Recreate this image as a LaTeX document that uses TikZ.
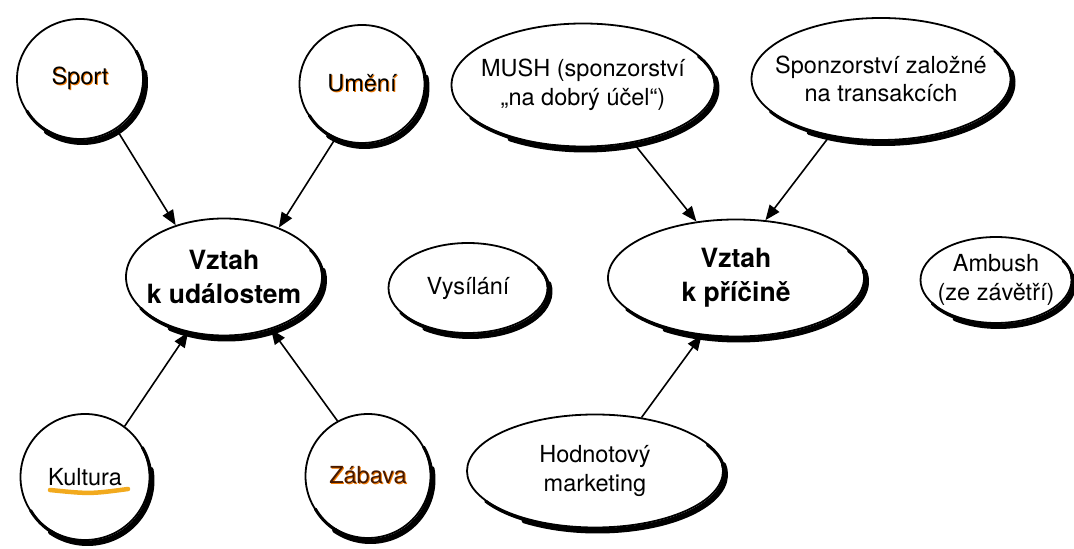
\documentclass[tikz,border=0pt]{standalone}
\usepackage{fontspec}
\setmainfont{TeX Gyre Heros}
\usetikzlibrary{shapes.geometric,arrows.meta}
\definecolor{hlorange}{RGB}{240,120,0}
\definecolor{hlyellow}{RGB}{242,170,30}
\definecolor{darkbrown}{RGB}{70,25,0}
\newcommand{\glowtext}[2]{\makebox[0pt][l]{\kern1pt\raisebox{-1pt}{\color{hlorange}#2}}{\color{#1}#2}}
% #1 name, #2 x (px from left), #3 y (px from top), #4 x radius, #5 y radius (px)
\newcommand{\bub}[5]{%
  \filldraw[fill=white, draw=black, line width=1.8pt] (#2, 549-#3) ellipse [x radius=#4, y radius=#5];
  \draw[shadowarc, line width=3pt] (#2+1.5, 549-#3-2) ++(30:#4 and #5) arc [start angle=30, end angle=-150, x radius=#4, y radius=#5];
  \draw[shadowarc, line width=5pt] (#2+2.5, 549-#3-3.5) ++(10:#4 and #5) arc [start angle=10, end angle=-125, x radius=#4, y radius=#5];
  \node[anchorshape, minimum width=2*#4pt, minimum height=2*#5pt] (#1) at (#2, 549-#3) {};}
\begin{document}
\begin{tikzpicture}[x=1pt,y=1pt,
  anchorshape/.style={ellipse, inner sep=0pt, outer sep=0.9pt},
  shadowarc/.style={draw=black, line cap=round},
  lbl/.style={align=center, inner sep=0pt, font=\fontsize{23.5}{28.5}\selectfont},
  hublbl/.style={align=center, inner sep=0pt, font=\fontsize{26.5}{34}\selectfont\bfseries},
  link/.style={line width=1.6pt, -{Triangle[length=15pt,width=12pt]}},
  marker/.style={line width=4.5pt, draw=hlyellow, line cap=round}
]
\useasboundingbox (0,0) rectangle (1074,549);
\fill[white] (0,0) rectangle (1074,549);

% left cluster
\bub{sport}{80}{79}{63}{60}
\bub{umeni}{362}{84}{62.5}{59}
\bub{vu}{224}{277}{98}{58.5}
\bub{kultura}{85}{477}{64.5}{63}
\bub{zabava}{368}{476}{62.5}{62}
\draw[marker] (50,59) .. controls (90,55) .. (128,60);
\node[lbl] (sport-t) at (sport) {\glowtext{black}{Sport}};
\node[lbl] (umeni-t) at (umeni) {\glowtext{black}{Umění}};
\node[hublbl] (vu-t) at (vu) {Vztah\\k událostem};
\node[lbl] (kultura-t) at (kultura) {Kultura};
\node[lbl] (zabava-t) at (zabava) {\glowtext{darkbrown}{Zábava}};

% middle and right cluster
\bub{vysilani}{468}{288}{79.5}{45}
\bub{mush}{583}{85}{131.5}{61.5}
\bub{sponz}{881}{79}{129.5}{61}
\bub{vp}{736}{278}{128}{58.5}
\bub{ambush}{996}{280}{75.5}{43}
\bub{hodn}{595}{471}{128}{56.5}
\node[lbl] (vysilani-t) at (vysilani) {Vysílání};
\node[lbl] (mush-t) at (mush) {MUSH (sponzorství\\„na dobrý účel“)};
\node[lbl] (sponz-t) at (sponz) {Sponzorství založné\\na transakcích};
\node[hublbl] (vp-t) at (vp) {Vztah\\k příčině};
\node[lbl] (ambush-t) at (ambush) {Ambush\\(ze závětří)};
\node[lbl] (hodn-t) at (hodn) {Hodnotový\\marketing};

% connectors
\draw[link] (sport.-54) -- (vu.133);
\draw[link] (umeni.-116) -- (vu.42);
\draw[link] (kultura.52) -- (vu.-123);
\draw[link] (zabava.119) -- (vu.-48);
\draw[link] (mush.-49) -- (vp.125);
\draw[link] (sponz.-132) -- (vp.63);
\draw[link] (hodn.49) -- (vp.-121);
\end{tikzpicture}
\end{document}
